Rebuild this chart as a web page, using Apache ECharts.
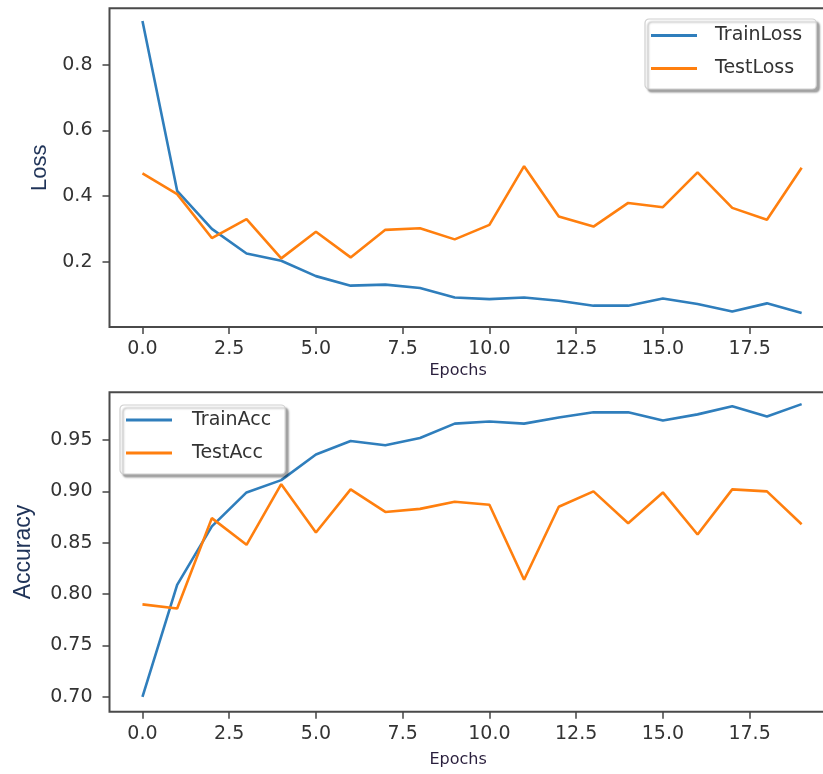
<!DOCTYPE html>
<html>
<head>
<meta charset="utf-8">
<script src="https://cdn.jsdelivr.net/npm/echarts@6/dist/echarts.min.js"></script>
<style>
html,body{margin:0;padding:0;background:#fff;}
#chart{width:823px;height:774px;}
</style>
</head>
<body>
<div id="chart"></div>
<script>
const epochs = [0, 1, 2, 3, 4, 5, 6, 7, 8, 9, 10, 11, 12, 13, 14, 15, 16, 17, 18, 19];
const trainLoss = [0.933, 0.416, 0.300, 0.225, 0.203, 0.156, 0.127, 0.130, 0.120, 0.091, 0.086, 0.091, 0.081, 0.066, 0.066, 0.088, 0.071, 0.048, 0.073, 0.044];
const testLoss = [0.469, 0.406, 0.272, 0.330, 0.210, 0.291, 0.213, 0.297, 0.302, 0.268, 0.312, 0.491, 0.338, 0.307, 0.379, 0.366, 0.472, 0.364, 0.328, 0.486];
const trainAcc = [0.700, 0.809, 0.866, 0.899, 0.911, 0.936, 0.949, 0.945, 0.952, 0.966, 0.968, 0.966, 0.972, 0.977, 0.977, 0.969, 0.975, 0.983, 0.973, 0.985];
const testAcc = [0.790, 0.786, 0.874, 0.848, 0.907, 0.860, 0.902, 0.880, 0.883, 0.890, 0.887, 0.814, 0.885, 0.900, 0.869, 0.899, 0.858, 0.902, 0.900, 0.868];
const xTicks = [0, 2.5, 5, 7.5, 10, 12.5, 15, 17.5];
const lossTicks = [0.2, 0.4, 0.6, 0.8];
const accTicks = [0.70, 0.75, 0.80, 0.85, 0.90, 0.95];

const BLUE = '#2f7ebc';
const ORANGE = '#ff7f0e';
const pairs = (ys) => epochs.map((e, i) => [e, ys[i]]);

const tickFont = { fontFamily: 'DejaVu Sans', fontSize: 19, color: '#333' };

function xAxis(gridIndex, gap) {
  return {
    type: 'value', gridIndex: gridIndex, min: -0.95, max: 19.95,
    name: 'Epochs', nameLocation: 'middle', nameGap: gap,
    nameTextStyle: { fontFamily: 'DejaVu Sans', fontSize: 16, color: '#2a1f3d', padding: [0, 28, 0, 0] },
    axisLine: { show: false, onZero: false },
    splitLine: { show: false },
    axisTick: { show: true, customValues: xTicks, length: 7, lineStyle: { color: '#444', width: 1.5 } },
    axisLabel: Object.assign({ customValues: xTicks, margin: 13, formatter: (v) => v.toFixed(1) }, tickFont)
  };
}
function yAxis(gridIndex, min, max, ticks, name, digits, gap, size) {
  return {
    type: 'value', gridIndex: gridIndex, min: min, max: max,
    name: name, nameLocation: 'middle', nameRotate: 90, nameGap: gap,
    nameTextStyle: { fontFamily: 'Liberation Sans', fontSize: size, color: '#1f3358' },
    axisLine: { show: false, onZero: false },
    splitLine: { show: false },
    axisTick: { show: true, customValues: ticks, length: 7, lineStyle: { color: '#444', width: 1.5 } },
    axisLabel: Object.assign({ customValues: ticks, margin: 17, formatter: (v) => v.toFixed(digits) }, tickFont)
  };
}
function legend(names, left, top, pad, textPad) {
  return {
    data: names, orient: 'vertical', left: left, top: top,
    icon: 'rect', itemWidth: 46, itemHeight: 3, itemGap: 14,
    padding: pad,
    backgroundColor: '#fff', borderColor: '#cfcfcf', borderWidth: 1.2, borderRadius: 4,
    shadowColor: 'rgba(0,0,0,0.35)', shadowBlur: 2, shadowOffsetX: 3, shadowOffsetY: 3,
    textStyle: { fontFamily: 'DejaVu Sans', fontSize: 19, color: '#333', padding: [0, 0, 0, textPad] }
  };
}
function line(name, data, color, xi, yi) {
  return {
    name: name, type: 'line', xAxisIndex: xi, yAxisIndex: yi, data: pairs(data),
    showSymbol: false, symbol: 'none', color: color,
    lineStyle: { color: color, width: 2.6 }, animation: false
  };
}

const chart = echarts.init(document.getElementById('chart'), null, { renderer: 'canvas' });
chart.setOption({
  animation: false,
  backgroundColor: '#fff',
  grid: [
    { left: 109.5, right: -11.6, top: 8.3, bottom: 447, outerBoundsMode: 'none', containLabel: false, show: true, borderColor: '#4a4a4a', borderWidth: 2, backgroundColor: 'transparent' },
    { left: 109.5, right: -11.6, top: 392.3, bottom: 62.3, outerBoundsMode: 'none', containLabel: false, show: true, borderColor: '#4a4a4a', borderWidth: 2, backgroundColor: 'transparent' }
  ],
  xAxis: [xAxis(0, 36), xAxis(1, 40)],
  yAxis: [
    yAxis(0, 0.001, 0.972, lossTicks, 'Loss', 1, 59, 22),
    yAxis(1, 0.6855, 0.9965, accTicks, 'Accuracy', 2, 74, 23)
  ],
  legend: [
    legend(['TrainLoss', 'TestLoss'], 645, 19, [7, 14, 11, 6], 13),
    legend(['TrainAcc', 'TestAcc'], 120, 405, [5.5, 14, 11.5, 6], 15)
  ],
  series: [
    line('TrainLoss', trainLoss, BLUE, 0, 0),
    line('TestLoss', testLoss, ORANGE, 0, 0),
    line('TrainAcc', trainAcc, BLUE, 1, 1),
    line('TestAcc', testAcc, ORANGE, 1, 1)
  ]
});
</script>
</body>
</html>
